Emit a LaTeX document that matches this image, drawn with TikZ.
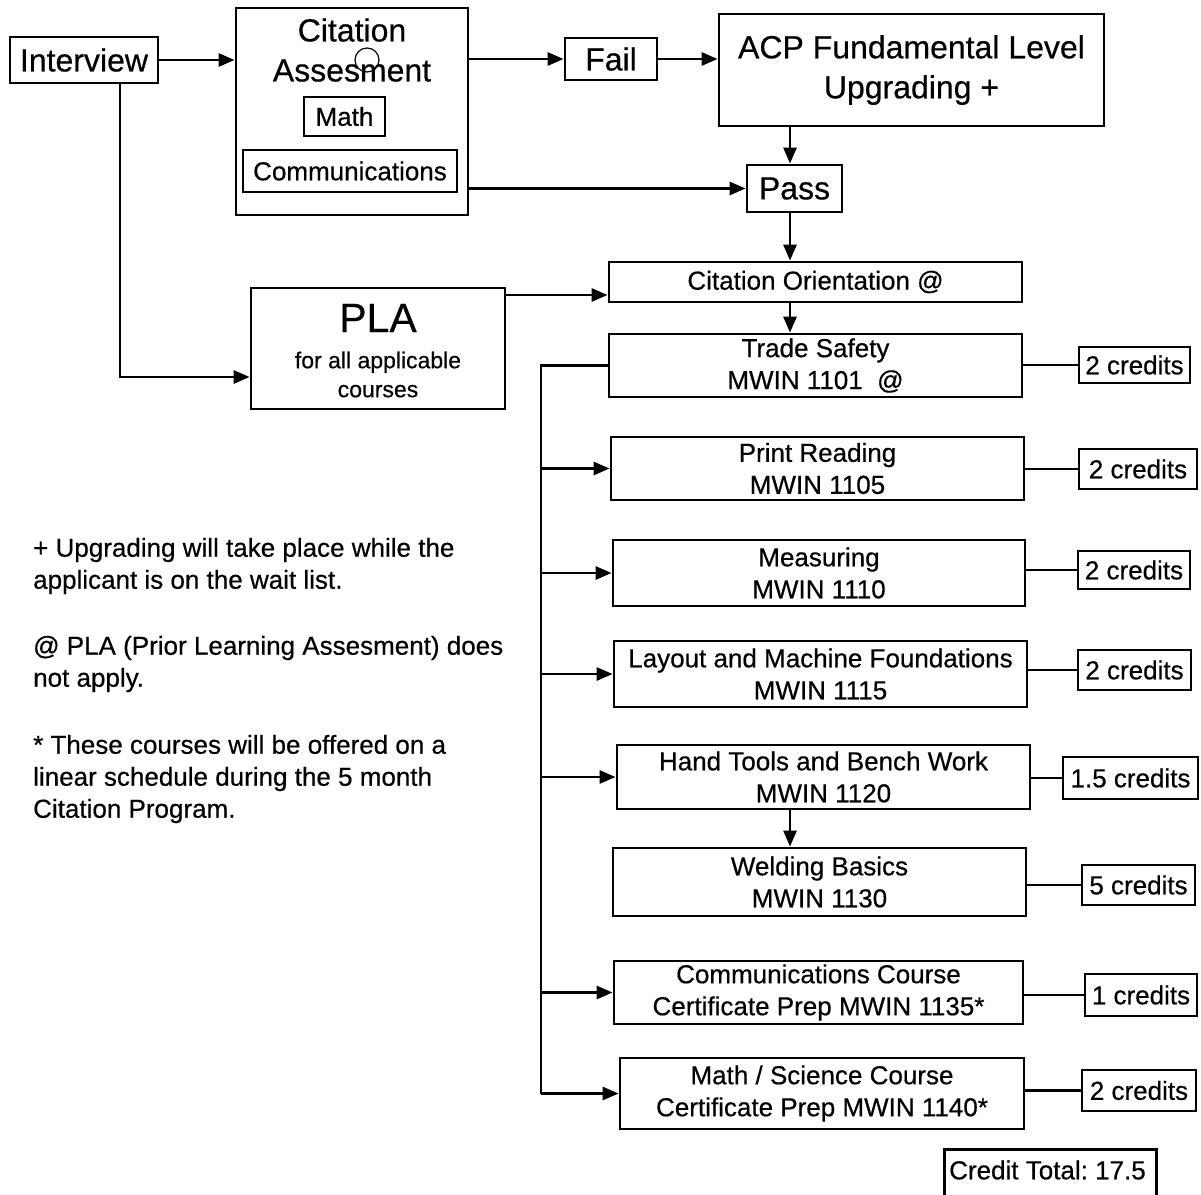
\documentclass[tikz,border=0pt]{standalone}
\usepackage{fontspec}
\setmainfont{Liberation Sans}[BoldFont={Liberation Sans},BoldFeatures={FakeBold=0.5}]
\usetikzlibrary{arrows.meta}
\frenchspacing
\tikzset{
  box/.style={draw, line width=2.8pt, inner sep=0pt, align=center, font=\fontsize{26}{32}\selectfont\bfseries},
  bigbox/.style={box, font=\fontsize{32}{40}\selectfont\bfseries},
  credit/.style={box},
  plain/.style={inner sep=0pt, align=center},
  note/.style={inner sep=0pt, align=left, anchor=west, font=\fontsize{26}{32}\selectfont\bfseries},
  conn/.style={line width=2.8pt},
  arr/.style={conn, -{Triangle[length=16pt,width=13pt]}},
}
\begin{document}
\begin{tikzpicture}[x=1pt,y=-1pt]
\useasboundingbox (0,0) rectangle (1201,1194);
\clip (0,0) rectangle (1201,1194);
% top row
\node[bigbox, minimum width=148, minimum height=46] (interview) at (84,60) {Interview};
\node[box, minimum width=232, minimum height=207] (cit) at (352,111.5) {};
\node[plain, font=\fontsize{32}{40}\selectfont\bfseries] (cittxt) at (352,50) {Citation\\Assesment};
\draw[line width=1.2pt] (367,60) circle (12);
\node[box, minimum width=81, minimum height=39] (math) at (344.5,116.5) {Math};
\node[box, minimum width=214, minimum height=42] (comms) at (350,171) {Communications};
\node[bigbox, minimum width=92, minimum height=42] (fail) at (611,59) {Fail};
\node[bigbox, minimum width=385, minimum height=112] (acp) at (911.5,70) {ACP Fundamental Level\\Upgrading +};
\node[bigbox, minimum width=95, minimum height=47] (pass) at (794.5,188.5) {Pass};
\node[box, minimum width=413, minimum height=40] (orient) at (815.5,282) {Citation Orientation @};
% PLA
\node[box, minimum width=254, minimum height=121] (pla) at (378,348.5) {};
\node[plain, font=\fontsize{41}{44}\selectfont\bfseries] (platitle) at (378,318) {PLA};
\node[plain, font=\fontsize{23}{29}\selectfont\bfseries] (platxt) at (378,374.5) {for all applicable\\courses};
% courses
\node[box, minimum width=413, minimum height=63] (trade) at (815.5,365.5) {Trade Safety\\MWIN 1101 \ @};
\node[box, minimum width=413, minimum height=63] (print) at (817.5,468.5) {Print Reading\\MWIN 1105};
\node[box, minimum width=412, minimum height=66] (meas) at (819,573) {Measuring\\MWIN 1110};
\node[box, minimum width=413, minimum height=66] (layout) at (820.5,674) {Layout and Machine Foundations\\MWIN 1115};
\node[box, minimum width=413, minimum height=64] (hand) at (823.5,777) {Hand Tools and Bench Work\\MWIN 1120};
\node[box, minimum width=413, minimum height=68] (weld) at (819.5,882) {Welding Basics\\MWIN 1130};
\node[box, minimum width=409, minimum height=63] (comc) at (818.5,992.5) {Communications Course\\Certificate Prep MWIN 1135*};
\node[box, minimum width=404, minimum height=71] (msc) at (822,1093.5) {Math / Science Course\\Certificate Prep MWIN 1140*};
% credits
\node[credit, minimum width=111, minimum height=36] (c1) at (1134.5,365) {2 credits};
\node[credit, minimum width=118, minimum height=40] (c2) at (1138,469) {2 credits};
\node[credit, minimum width=112, minimum height=38] (c3) at (1134,570) {2 credits};
\node[credit, minimum width=113, minimum height=40] (c4) at (1134.5,670) {2 credits};
\node[credit, minimum width=135, minimum height=42] (c5) at (1130.5,778) {1.5 credits};
\node[credit, minimum width=113, minimum height=40] (c6) at (1138.5,885) {5 credits};
\node[credit, minimum width=112, minimum height=42] (c7) at (1141,995) {1 credits};
\node[credit, minimum width=114, minimum height=41] (c8) at (1139,1090.5) {2 credits};
\node[box, anchor=north west, minimum width=212, minimum height=70] (total) at (943,1148) {};
\node[plain, anchor=west, font=\fontsize{26}{32}\selectfont\bfseries] (totaltxt) at (949,1170) {Credit Total: 17.5};
% notes
\node[note] (note1) at (33,566) {+ Upgrading will take place while the\\applicant is on the wait list.};
\node[note] (note2) at (33,664) {@ PLA (Prior Learning Assesment) does\\not apply.};
\node[note] (note3) at (33,779) {* These courses will be offered on a\\linear schedule during the 5 month\\Citation Program.};
% helper coordinates
\coordinate (vx) at (790,0);
\coordinate (ix) at (120,0);
\coordinate (bx) at (541,0);
\coordinate (py) at (0,377);
\coordinate (oy) at (0,295);
% connectors
\draw[arr] (interview.east) -- (cit.west |- interview.east);
\draw[arr] (cit.east |- fail) -- (fail.west);
\draw[arr] (fail.east) -- (acp.west |- fail);
\draw[arr] (cit.east |- pass) -- (pass.west);
\draw[arr] (vx |- acp.south) -- (vx |- pass.north);
\draw[arr] (vx |- pass.south) -- (vx |- orient.north);
\draw[arr] (vx |- orient.south) -- (vx |- trade.north);
\draw[arr] (ix |- interview.south) |- (pla.west |- py);
\draw[arr] (pla.east |- oy) -- (orient.west |- oy);
\draw[conn] (trade.west) -| (bx |- msc.west);
\draw[arr] (bx |- print) -- (print.west);
\draw[arr] (bx |- meas) -- (meas.west);
\draw[arr] (bx |- layout) -- (layout.west);
\draw[arr] (bx |- hand) -- (hand.west);
\draw[arr] (bx |- comc) -- (comc.west);
\draw[arr] (bx |- msc) -- (msc.west);
\draw[arr] (vx |- hand.south) -- (vx |- weld.north);
\draw[conn] (trade.east |- c1) -- (c1.west);
\draw[conn] (print.east |- c2) -- (c2.west);
\draw[conn] (meas.east |- c3) -- (c3.west);
\draw[conn] (layout.east |- c4) -- (c4.west);
\draw[conn] (hand.east |- c5) -- (c5.west);
\draw[conn] (weld.east |- c6) -- (c6.west);
\draw[conn] (comc.east |- c7) -- (c7.west);
\draw[conn] (msc.east |- c8) -- (c8.west);
\end{tikzpicture}
\end{document}
